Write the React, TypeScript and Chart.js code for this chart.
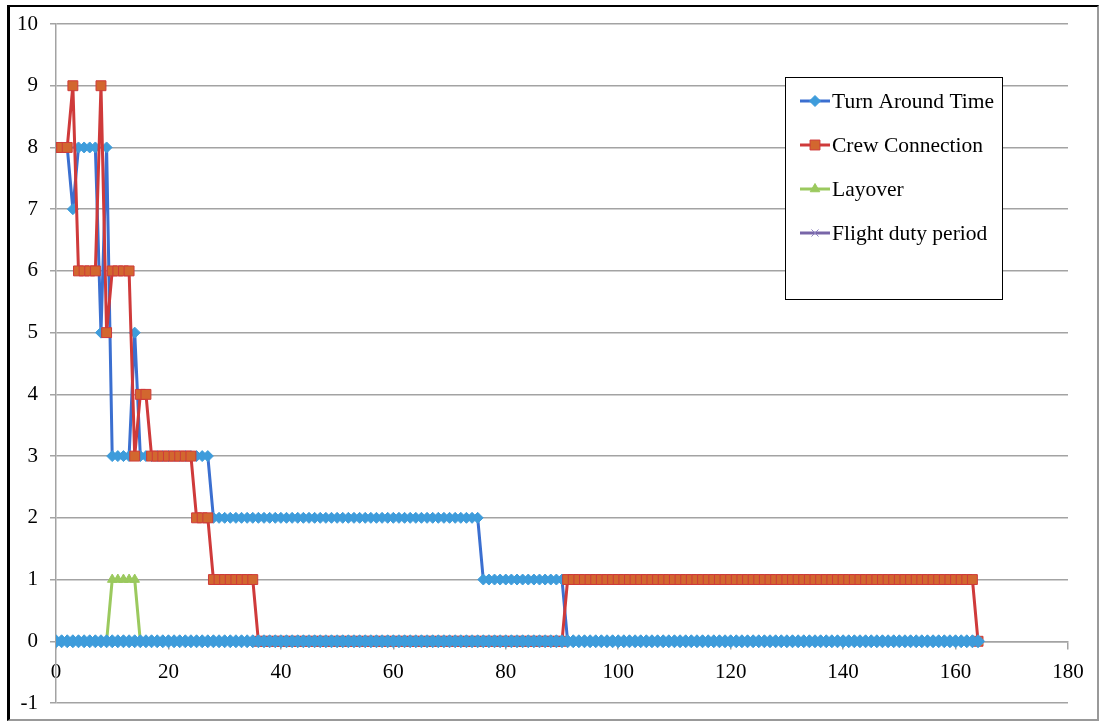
import React, { useEffect, useRef } from "react";
import { Chart, registerables } from "chart.js";
import { drawPoint } from "chart.js/helpers";

Chart.register(...registerables);

// x positions (observation index)
const xValues = [
  0, 1, 2, 3, 4, 5, 6, 7, 8, 9, 10, 11, 12, 13, 14,
  15, 16, 17, 18, 19, 20, 21, 22, 23, 24, 25, 26, 27, 28, 29,
  30, 31, 32, 33, 34, 35, 36, 37, 38, 39, 40, 41, 42, 43, 44,
  45, 46, 47, 48, 49, 50, 51, 52, 53, 54, 55, 56, 57, 58, 59,
  60, 61, 62, 63, 64, 65, 66, 67, 68, 69, 70, 71, 72, 73, 74,
  75, 76, 77, 78, 79, 80, 81, 82, 83, 84, 85, 86, 87, 88, 89,
  90, 91, 92, 93, 94, 95, 96, 97, 98, 99, 100, 101, 102, 103, 104,
  105, 106, 107, 108, 109, 110, 111, 112, 113, 114, 115, 116, 117, 118, 119,
  120, 121, 122, 123, 124, 125, 126, 127, 128, 129, 130, 131, 132, 133, 134,
  135, 136, 137, 138, 139, 140, 141, 142, 143, 144, 145, 146, 147, 148, 149,
  150, 151, 152, 153, 154, 155, 156, 157, 158, 159, 160, 161, 162, 163, 164,
];

const turnAroundTime = [
  8, 8, 8, 7, 8, 8, 8, 8, 5, 8, 3, 3, 3, 3, 5,
  3, 3, 3, 3, 3, 3, 3, 3, 3, 3, 3, 3, 3, 2, 2,
  2, 2, 2, 2, 2, 2, 2, 2, 2, 2, 2, 2, 2, 2, 2,
  2, 2, 2, 2, 2, 2, 2, 2, 2, 2, 2, 2, 2, 2, 2,
  2, 2, 2, 2, 2, 2, 2, 2, 2, 2, 2, 2, 2, 2, 2,
  2, 1, 1, 1, 1, 1, 1, 1, 1, 1, 1, 1, 1, 1, 1,
  1, 0, 0, 0, 0, 0, 0, 0, 0, 0, 0, 0, 0, 0, 0,
  0, 0, 0, 0, 0, 0, 0, 0, 0, 0, 0, 0, 0, 0, 0,
  0, 0, 0, 0, 0, 0, 0, 0, 0, 0, 0, 0, 0, 0, 0,
  0, 0, 0, 0, 0, 0, 0, 0, 0, 0, 0, 0, 0, 0, 0,
  0, 0, 0, 0, 0, 0, 0, 0, 0, 0, 0, 0, 0, 0, 0,
];

const crewConnection = [
  8, 8, 8, 9, 6, 6, 6, 6, 9, 5, 6, 6, 6, 6, 3,
  4, 4, 3, 3, 3, 3, 3, 3, 3, 3, 2, 2, 2, 1, 1,
  1, 1, 1, 1, 1, 1, 0, 0, 0, 0, 0, 0, 0, 0, 0,
  0, 0, 0, 0, 0, 0, 0, 0, 0, 0, 0, 0, 0, 0, 0,
  0, 0, 0, 0, 0, 0, 0, 0, 0, 0, 0, 0, 0, 0, 0,
  0, 0, 0, 0, 0, 0, 0, 0, 0, 0, 0, 0, 0, 0, 0,
  0, 1, 1, 1, 1, 1, 1, 1, 1, 1, 1, 1, 1, 1, 1,
  1, 1, 1, 1, 1, 1, 1, 1, 1, 1, 1, 1, 1, 1, 1,
  1, 1, 1, 1, 1, 1, 1, 1, 1, 1, 1, 1, 1, 1, 1,
  1, 1, 1, 1, 1, 1, 1, 1, 1, 1, 1, 1, 1, 1, 1,
  1, 1, 1, 1, 1, 1, 1, 1, 1, 1, 1, 1, 1, 1, 0,
];

const layover = [
  0, 0, 0, 0, 0, 0, 0, 0, 0, 0, 1, 1, 1, 1, 1,
  0, 0, 0, 0, 0, 0, 0, 0, 0, 0, 0, 0, 0, 0, 0,
  0, 0, 0, 0, 0, 0, 0, 0, 0, 0, 0, 0, 0, 0, 0,
  0, 0, 0, 0, 0, 0, 0, 0, 0, 0, 0, 0, 0, 0, 0,
  0, 0, 0, 0, 0, 0, 0, 0, 0, 0, 0, 0, 0, 0, 0,
  0, 0, 0, 0, 0, 0, 0, 0, 0, 0, 0, 0, 0, 0, 0,
  0, 0, 0, 0, 0, 0, 0, 0, 0, 0, 0, 0, 0, 0, 0,
  0, 0, 0, 0, 0, 0, 0, 0, 0, 0, 0, 0, 0, 0, 0,
  0, 0, 0, 0, 0, 0, 0, 0, 0, 0, 0, 0, 0, 0, 0,
  0, 0, 0, 0, 0, 0, 0, 0, 0, 0, 0, 0, 0, 0, 0,
  0, 0, 0, 0, 0, 0, 0, 0, 0, 0, 0, 0, 0, 0, 0,
];

const flightDutyPeriod = [
  0, 0, 0, 0, 0, 0, 0, 0, 0, 0, 0, 0, 0, 0, 0,
  0, 0, 0, 0, 0, 0, 0, 0, 0, 0, 0, 0, 0, 0, 0,
  0, 0, 0, 0, 0, 0, 0, 0, 0, 0, 0, 0, 0, 0, 0,
  0, 0, 0, 0, 0, 0, 0, 0, 0, 0, 0, 0, 0, 0, 0,
  0, 0, 0, 0, 0, 0, 0, 0, 0, 0, 0, 0, 0, 0, 0,
  0, 0, 0, 0, 0, 0, 0, 0, 0, 0, 0, 0, 0, 0, 0,
  0, 0, 0, 0, 0, 0, 0, 0, 0, 0, 0, 0, 0, 0, 0,
  0, 0, 0, 0, 0, 0, 0, 0, 0, 0, 0, 0, 0, 0, 0,
  0, 0, 0, 0, 0, 0, 0, 0, 0, 0, 0, 0, 0, 0, 0,
  0, 0, 0, 0, 0, 0, 0, 0, 0, 0, 0, 0, 0, 0, 0,
  0, 0, 0, 0, 0, 0, 0, 0, 0, 0, 0, 0, 0, 0, 0,
];

// unlabeled series visible along the zero line (not in legend)
const unlabeledSeries = [
  0, 0, 0, 0, 0, 0, 0, 0, 0, 0, 0, 0, 0, 0, 0,
  0, 0, 0, 0, 0, 0, 0, 0, 0, 0, 0, 0, 0, 0, 0,
  0, 0, 0, 0, 0, 0, 0, 0, 0, 0, 0, 0, 0, 0, 0,
  0, 0, 0, 0, 0, 0, 0, 0, 0, 0, 0, 0, 0, 0, 0,
  0, 0, 0, 0, 0, 0, 0, 0, 0, 0, 0, 0, 0, 0, 0,
  0, 0, 0, 0, 0, 0, 0, 0, 0, 0, 0, 0, 0, 0, 0,
  0, 0, 0, 0, 0, 0, 0, 0, 0, 0, 0, 0, 0, 0, 0,
  0, 0, 0, 0, 0, 0, 0, 0, 0, 0, 0, 0, 0, 0, 0,
  0, 0, 0, 0, 0, 0, 0, 0, 0, 0, 0, 0, 0, 0, 0,
  0, 0, 0, 0, 0, 0, 0, 0, 0, 0, 0, 0, 0, 0, 0,
  0, 0, 0, 0, 0, 0, 0, 0, 0, 0, 0, 0, 0, 0, 0,
];

const seriesNames = ["Turn Around Time", "Crew Connection", "Layover", "Flight duty period"];

const X_MIN = 0;
const X_MAX = 180;
const X_STEP = 20;
const Y_MIN = -1;
const Y_MAX = 10;
const Y_STEP = 1;

const FONT = '"Liberation Serif", "Times New Roman", serif';
const GRID = "#A3A3A3";

function toPoints(values: number[]) {
  return values.map((v, i) => ({ x: xValues[i], y: v }));
}

const boxLegend = {
  id: "boxLegend",
  afterDraw(chart: any) {
    const ctx: CanvasRenderingContext2D = chart.ctx;
    const bx = 785.5;
    const by = 77.5;
    const bw = 217;
    const bh = 222;
    ctx.save();
    ctx.fillStyle = "#ffffff";
    ctx.fillRect(bx, by, bw, bh);
    ctx.strokeStyle = "#000000";
    ctx.lineWidth = 1;
    ctx.strokeRect(bx, by, bw, bh);
    const datasets = chart.data.datasets;
    for (let i = 0; i < seriesNames.length; i++) {
      const ds = datasets[i];
      const y = 101 + i * 44;
      ctx.strokeStyle = ds.borderColor;
      ctx.lineWidth = ds.borderWidth;
      ctx.beginPath();
      ctx.moveTo(800, y);
      ctx.lineTo(830, y);
      ctx.stroke();
      ctx.fillStyle = ds.pointBackgroundColor;
      ctx.strokeStyle = ds.pointBorderColor;
      ctx.lineWidth = ds.pointBorderWidth;
      drawPoint(
        ctx,
        { pointStyle: ds.pointStyle, radius: ds.pointRadius, rotation: 0, borderWidth: ds.pointBorderWidth } as any,
        815,
        y
      );
      ctx.fillStyle = "#000000";
      ctx.font = `21.5px ${FONT}`;
      ctx.textBaseline = "middle";
      ctx.textAlign = "left";
      ctx.fillText(seriesNames[i], 832, y + 1);
    }
    ctx.restore();
  },
};

export default function App() {
  const canvasRef = useRef<HTMLCanvasElement | null>(null);

  useEffect(() => {
    if (!canvasRef.current) return;
    const chart = new Chart(canvasRef.current, {
      type: "line",
      data: {
        datasets: [
          {
            label: seriesNames[0],
            data: toPoints(turnAroundTime),
            borderColor: "#3B6FD0",
            borderWidth: 3,
            pointStyle: "rectRot",
            pointRadius: 5.5,
            pointBackgroundColor: "#3E9CDB",
            pointBorderColor: "#3E9CDB",
            pointBorderWidth: 1,
            order: 5,
          },
          {
            label: seriesNames[1],
            data: toPoints(crewConnection),
            borderColor: "#CF3A3A",
            borderWidth: 3,
            pointStyle: "rect",
            pointRadius: 7,
            pointBackgroundColor: "#D2672F",
            pointBorderColor: "#CF3A3A",
            pointBorderWidth: 1,
            order: 4,
          },
          {
            label: seriesNames[2],
            data: toPoints(layover),
            borderColor: "#9BC95E",
            borderWidth: 3,
            pointStyle: "triangle",
            pointRadius: 5.5,
            pointBackgroundColor: "#9BC95E",
            pointBorderColor: "#9BC95E",
            pointBorderWidth: 1,
            order: 3,
          },
          {
            label: seriesNames[3],
            data: toPoints(flightDutyPeriod),
            borderColor: "#7866A8",
            borderWidth: 3,
            pointStyle: "crossRot",
            pointRadius: 5,
            pointBackgroundColor: "#8C7FC0",
            pointBorderColor: "#8C7FC0",
            pointBorderWidth: 1,
            order: 2,
          },
          {
            label: "",
            data: toPoints(unlabeledSeries),
            borderColor: "#3B86D2",
            borderWidth: 7,
            pointStyle: "rectRot",
            pointRadius: 6.5,
            pointBackgroundColor: "#3E9CDB",
            pointBorderColor: "#3E9CDB",
            pointBorderWidth: 1,
            order: 1,
          },
        ] as any,
      },
      options: {
        responsive: false,
        animation: false,
        events: [],
        layout: { padding: { left: 10, right: 33, top: 24, bottom: 19 } },
        plugins: {
          legend: { display: false },
          tooltip: { enabled: false },
        },
        scales: {
          x: {
            type: "linear",
            min: X_MIN,
            max: X_MAX,
            position: { y: 0 } as any,
            ticks: {
              stepSize: X_STEP,
              color: "#000",
              font: { family: FONT, size: 21 },
              padding: 12,
              maxRotation: 0,
            },
            grid: { drawOnChartArea: false, drawTicks: true, tickLength: 7, color: GRID, lineWidth: 1.5 },
            border: { color: GRID, width: 1.5 },
            afterFit: (s: any) => {
              s.height = 0;
              s.paddingLeft = 0;
              s.paddingRight = 0;
            },
          },
          y: {
            type: "linear",
            min: Y_MIN,
            max: Y_MAX,
            ticks: {
              stepSize: Y_STEP,
              color: "#000",
              font: { family: FONT, size: 21 },
              padding: 12,
            },
            grid: { color: GRID, lineWidth: 1.5, drawTicks: true, tickLength: 6 },
            border: { color: GRID, width: 1.5 },
            afterFit: (s: any) => {
              s.width = 46;
              s.paddingTop = 0;
              s.paddingBottom = 0;
            },
          },
        },
      },
      plugins: [boxLegend],
    });
    return () => chart.destroy();
  }, []);

  return (
    <div style={{ position: "fixed", left: 0, top: 0, width: 1101, height: 722, background: "#fff" }}>
      <canvas ref={canvasRef} width={1101} height={722} style={{ position: "absolute", left: 0, top: 0 }} />
      <div
        style={{
          position: "absolute",
          left: 7,
          top: 5,
          width: 1092,
          height: 716,
          boxSizing: "border-box",
          borderTop: "2px solid #000",
          borderLeft: "3px solid #000",
          borderRight: "2px solid #999",
          borderBottom: "2px solid #999",
          pointerEvents: "none",
        }}
      />
    </div>
  );
}
